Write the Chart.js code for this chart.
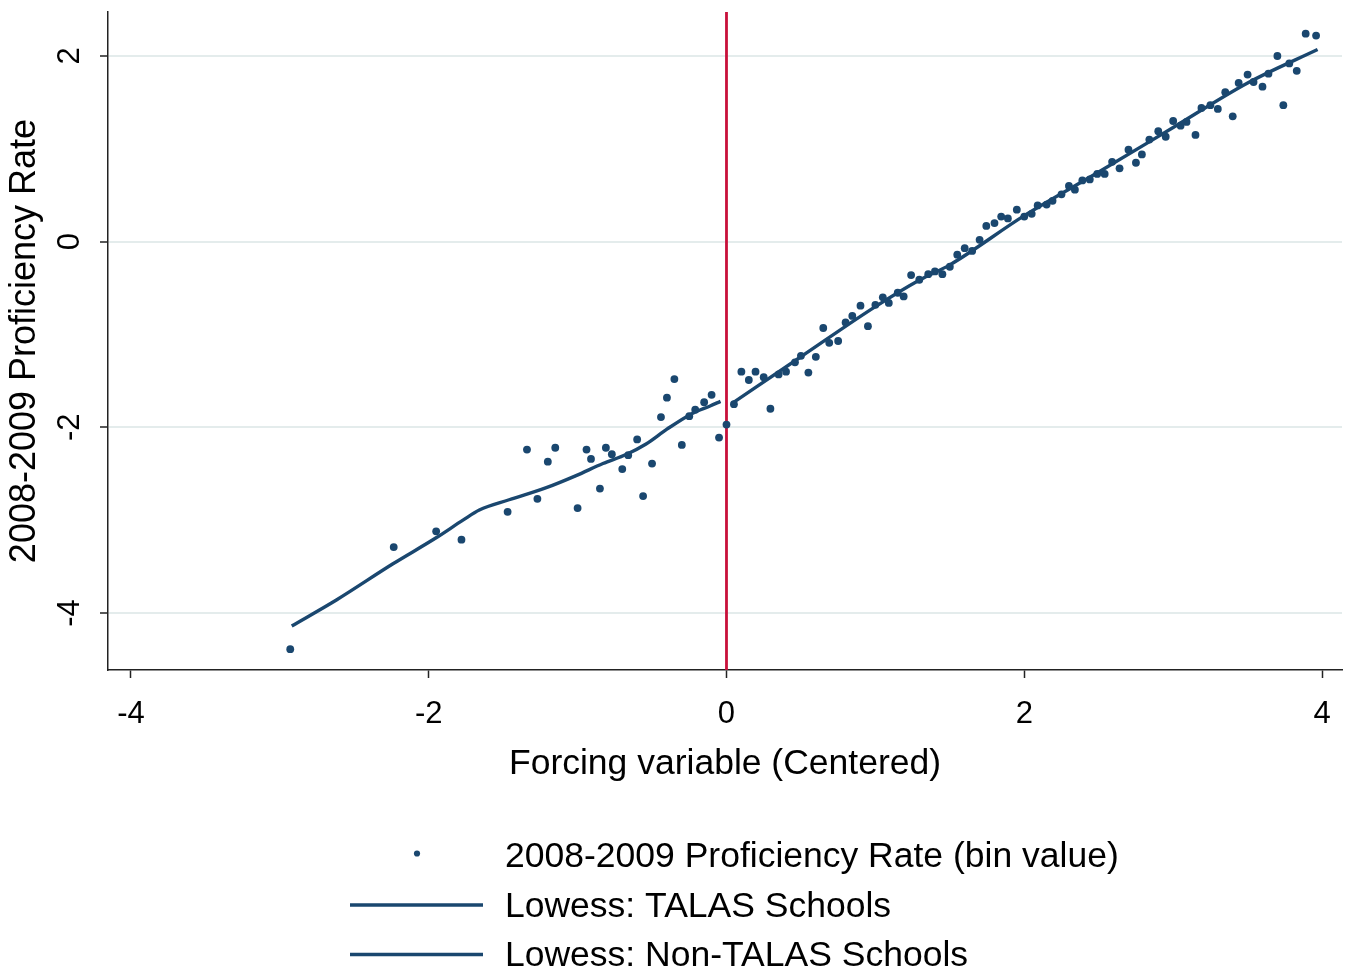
<!DOCTYPE html>
<html>
<head>
<meta charset="utf-8">
<title>Proficiency rate by forcing variable</title>
<script src="https://cdn.jsdelivr.net/npm/chart.js@4"></script>
<style>
  html, body { margin: 0; padding: 0; background: #fff; }
  #wrap { width: 1354px; height: 973px; position: relative; }
</style>
</head>
<body>
<div id="wrap"><canvas id="rd"></canvas></div>
<script>
// bin means: centered forcing variable vs 2008-2009 proficiency rate
var binX = [-2.93, -2.235, -1.95, -1.78, -1.47, -1.34, -1.27, -1.20, -1.15, -1.00,
  -0.94, -0.91, -0.85, -0.81, -0.77, -0.70, -0.66, -0.60, -0.56, -0.50,
  -0.44, -0.40, -0.35, -0.30, -0.25, -0.21, -0.15, -0.10, -0.05, 0.00,
  0.05, 0.10, 0.15, 0.195, 0.25, 0.295, 0.35, 0.40, 0.46, 0.50,
  0.55, 0.60, 0.65, 0.69, 0.75, 0.80, 0.845, 0.90, 0.95, 1.00,
  1.05, 1.09, 1.15, 1.19, 1.24, 1.295, 1.355, 1.40, 1.45, 1.50,
  1.55, 1.60, 1.65, 1.70, 1.745, 1.80, 1.845, 1.89, 1.95, 2.00,
  2.05, 2.09, 2.15, 2.19, 2.25, 2.30, 2.34, 2.39, 2.44, 2.49,
  2.54, 2.59, 2.64, 2.70, 2.75, 2.79, 2.84, 2.90, 2.95, 3.00,
  3.05, 3.09, 3.15, 3.19, 3.25, 3.30, 3.35, 3.40, 3.44, 3.50,
  3.54, 3.60, 3.64, 3.70, 3.74, 3.78, 3.83, 3.89, 3.96];
var binY = [-4.39, -3.29, -3.12, -3.21, -2.91, -2.24, -2.77, -2.37, -2.22, -2.87,
  -2.24, -2.34, -2.66, -2.22, -2.29, -2.45, -2.30, -2.13, -2.74, -2.39,
  -1.89, -1.68, -1.48, -2.19, -1.88, -1.81, -1.73, -1.65, -2.11, -1.97,
  -1.75, -1.40, -1.49, -1.40, -1.46, -1.80, -1.43, -1.40, -1.30, -1.23,
  -1.41, -1.24, -0.93, -1.09, -1.07, -0.87, -0.80, -0.69, -0.91, -0.68,
  -0.60, -0.66, -0.55, -0.59, -0.36, -0.41, -0.35, -0.32, -0.35, -0.27,
  -0.14, -0.07, -0.10, 0.02, 0.17, 0.20, 0.27, 0.25, 0.345, 0.27,
  0.30, 0.39, 0.40, 0.44, 0.51, 0.60, 0.56, 0.66, 0.67, 0.73,
  0.73, 0.86, 0.79, 0.99, 0.85, 0.94, 1.10, 1.19, 1.13, 1.30,
  1.25, 1.29, 1.15, 1.44, 1.47, 1.43, 1.61, 1.35, 1.71, 1.80,
  1.72, 1.67, 1.81, 2.00, 1.47, 1.92, 1.84, 2.24, 2.22];

// lowess fits on each side of the cutoff
var talasX = [-2.92, -2.62, -2.24, -1.95, -1.77, -1.66, -1.46, -1.21, -1.01, -0.83, -0.67, -0.54, -0.40, -0.23, -0.11, -0.04];
var talasY = [-4.14, -3.86, -3.47, -3.19, -3.00, -2.89, -2.78, -2.65, -2.52, -2.39, -2.29, -2.18, -2.02, -1.85, -1.77, -1.72];
var nonTalasX = [0.04, 0.5, 1.0, 1.3, 1.5, 2.0, 2.5, 3.0, 3.5, 3.97];
var nonTalasY = [-1.74, -1.24, -0.70, -0.41, -0.25, 0.28, 0.75, 1.23, 1.71, 2.07];

var xTicks = [-4, -2, 0, 2, 4];
var yTicks = [-4, -2, 0, 2];
var cutoff = 0;

var navy = '#1a476f';
var font = '"Liberation Sans", Arial, sans-serif';

function pairs(xs, ys) {
  return xs.map(function (x, i) { return { x: x, y: ys[i] }; });
}

// red vertical line at the cutoff
var cutoffLine = {
  id: 'cutoffLine',
  beforeDatasetsDraw: function (chart) {
    var ctx = chart.ctx, area = chart.chartArea;
    var px = chart.scales.x.getPixelForValue(cutoff);
    ctx.save();
    ctx.strokeStyle = '#c8103a';
    ctx.lineWidth = 2.8;
    ctx.beginPath();
    ctx.moveTo(px, area.top);
    ctx.lineTo(px, area.bottom);
    ctx.stroke();
    ctx.restore();
  }
};

// y tick labels are drawn rotated, reading upward
var yLabels = {
  id: 'yLabels',
  afterDraw: function (chart) {
    var ctx = chart.ctx, sc = chart.scales.y;
    ctx.save();
    ctx.font = '31px ' + font;
    ctx.fillStyle = '#000';
    ctx.textAlign = 'center';
    ctx.textBaseline = 'alphabetic';
    sc.ticks.forEach(function (t) {
      var py = sc.getPixelForValue(t.value);
      ctx.save();
      ctx.translate(chart.chartArea.left - 29, py);
      ctx.rotate(-Math.PI / 2);
      ctx.fillText(String(t.value), 0, 0);
      ctx.restore();
    });
    ctx.restore();
  }
};

// stacked legend below the x axis
var stackLegend = {
  id: 'stackLegend',
  afterDraw: function (chart) {
    var ctx = chart.ctx;
    ctx.save();
    ctx.font = '35.5px ' + font;
    ctx.textBaseline = 'middle';
    chart.data.datasets.forEach(function (ds, i) {
      var y = 857.5 + i * 49.5;
      if (ds.showLine === false) {
        ctx.fillStyle = ds.backgroundColor;
        ctx.beginPath();
        ctx.arc(417, y - 4, 3.1, 0, Math.PI * 2);
        ctx.fill();
      } else {
        ctx.strokeStyle = ds.borderColor;
        ctx.lineWidth = ds.borderWidth;
        ctx.beginPath();
        ctx.moveTo(350, y - 2);
        ctx.lineTo(483, y - 2);
        ctx.stroke();
      }
      ctx.fillStyle = '#000';
      ctx.fillText(ds.label, 505, y);
    });
    ctx.restore();
  }
};

new Chart(document.getElementById('rd'), {
  type: 'scatter',
  data: {
    datasets: [{
      label: '2008-2009 Proficiency Rate (bin value)',
      data: pairs(binX, binY),
      showLine: false,
      pointRadius: 3.9,
      pointBorderWidth: 0,
      backgroundColor: navy,
      borderColor: navy,
      order: 2
    }, {
      label: 'Lowess: TALAS Schools',
      data: pairs(talasX, talasY),
      showLine: true,
      pointRadius: 0,
      borderWidth: 3.4,
      borderColor: navy,
      backgroundColor: navy,
      cubicInterpolationMode: 'monotone',
      order: 1
    }, {
      label: 'Lowess: Non-TALAS Schools',
      data: pairs(nonTalasX, nonTalasY),
      showLine: true,
      pointRadius: 0,
      borderWidth: 3.4,
      borderColor: navy,
      backgroundColor: navy,
      cubicInterpolationMode: 'monotone',
      order: 1
    }]
  },
  options: {
    responsive: true,
    maintainAspectRatio: false,
    animation: false,
    layout: { padding: { top: 12, right: 12, left: 0, bottom: 0 } },
    plugins: {
      legend: { display: false },
      tooltip: { enabled: false }
    },
    scales: {
      x: {
        type: 'linear',
        min: -4.154,
        max: 4.134,
        afterBuildTicks: function (scale) {
          scale.ticks = xTicks.map(function (v) { return { value: v }; });
        },
        afterFit: function (scale) { scale.height = 303; },
        border: { color: '#222', width: 1.5 },
        grid: { drawOnChartArea: false, drawTicks: true, tickLength: 8, tickColor: '#222', tickWidth: 1.5 },
        ticks: { color: '#000', font: { family: font, size: 31 }, padding: 18, maxRotation: 0 },
        title: {
          display: true,
          text: 'Forcing variable (Centered)',
          color: '#000',
          font: { family: font, size: 35.5 },
          padding: { top: 0, bottom: 187 }
        }
      },
      y: {
        type: 'linear',
        min: -4.614,
        max: 2.474,
        afterBuildTicks: function (scale) {
          scale.ticks = yTicks.map(function (v) { return { value: v }; });
        },
        afterFit: function (scale) { scale.width = 108; },
        border: { color: '#222', width: 1.5 },
        grid: { color: '#e4ecec', lineWidth: 2, drawTicks: true, tickLength: 8, tickColor: '#222', tickWidth: 1.5 },
        ticks: { display: false },
        title: {
          display: true,
          text: '2008-2009 Proficiency Rate',
          color: '#000',
          font: { family: font, size: 36 },
          padding: { top: 3, bottom: 0 }
        }
      }
    }
  },
  plugins: [cutoffLine, yLabels, stackLegend]
});
</script>
</body>
</html>
